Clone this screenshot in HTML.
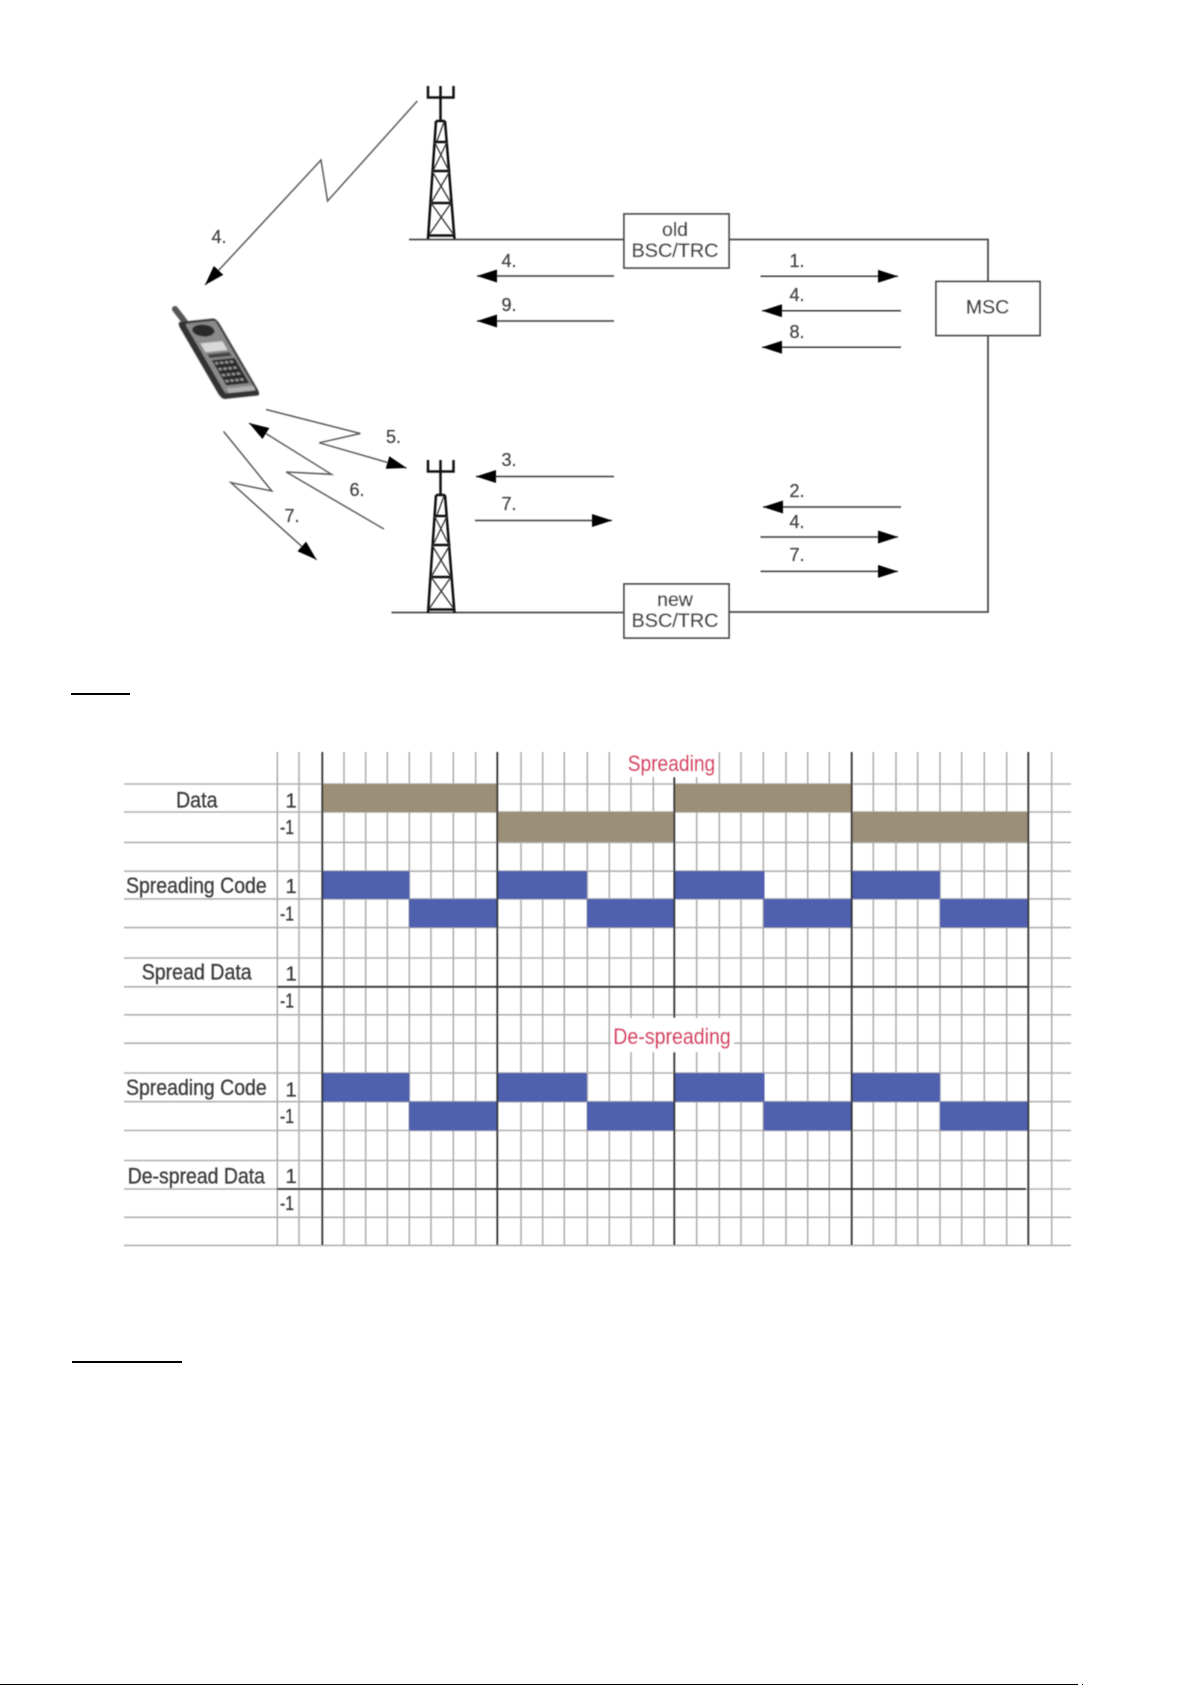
<!DOCTYPE html>
<html>
<head>
<meta charset="utf-8">
<style>
html,body{margin:0;padding:0;background:#fff;}
body{width:1192px;height:1685px;overflow:hidden;}
svg{display:block;}
text{font-family:"Liberation Sans",sans-serif;}
.n{font-size:18px;fill:#444;stroke:#444;stroke-width:.25;text-anchor:middle;}
.b{font-size:19.5px;fill:#3f3f3f;stroke:#3f3f3f;stroke-width:.3;text-anchor:middle;}
.l{font-size:22px;fill:#3a3a3a;stroke:#3a3a3a;stroke-width:.3;}
.v{font-size:20px;fill:#3a3a3a;stroke:#3a3a3a;stroke-width:.3;}
.r{font-size:22px;fill:#d8325f;stroke:#d8325f;stroke-width:.2;}
</style>
</head>
<body>
<svg width="1192" height="1685" viewBox="0 0 1192 1685" xmlns="http://www.w3.org/2000/svg">
<defs>
<filter id="soft" x="0" y="0" width="1192" height="1300" filterUnits="userSpaceOnUse"><feGaussianBlur stdDeviation="0.55"/></filter>
<filter id="softer" x="150" y="290" width="130" height="130" filterUnits="userSpaceOnUse"><feGaussianBlur stdDeviation="0.8"/></filter>
<marker id="ah" markerUnits="userSpaceOnUse" markerWidth="22" markerHeight="14" refX="20" refY="6.5" orient="auto">
<path d="M0,0 L20,6.5 L0,13 Z" fill="#000"/>
</marker>
<g id="tower" fill="none" stroke="#111" stroke-width="2.5">
<path d="M428,86 V97.5 H453.5 V86 M440.5,86 V121"/>
<path d="M436,121 L428,239 M445,121 L454.5,239 M436,121 H445"/>
<path d="M434.5,142 H447 M431.5,171 H450.5 M430.5,203 H451.5 M428.5,235.5 H454.5" />
<g stroke-width="1.3" stroke="#333">
<path d="M437,141 L444,122"/>
<path d="M434.5,142 L449,171 M447,142 L433,171"/>
<path d="M432,171 L451,203 M450,171 L431,203"/>
<path d="M431,203 L454,235 M451,203 L429,235"/>
</g>
</g>
</defs>

<g filter="url(#soft)">
<!-- network lines -->
<g fill="none" stroke="#4a4a4a" stroke-width="1.8">
<path d="M409,239.5 H624 M729,239.5 H988 V281 M988,335 V612 H729 M624,612.5 H391.5"/>
<rect x="624" y="214" width="105" height="54" fill="#fff"/>
<rect x="624" y="584" width="105" height="54" fill="#fff"/>
<rect x="936" y="281.5" width="104" height="54" fill="#fff"/>
</g>
<text class="b" x="675" y="236">old</text>
<text class="b" x="675" y="257" textLength="87" lengthAdjust="spacingAndGlyphs">BSC/TRC</text>
<text class="b" x="675" y="606">new</text>
<text class="b" x="675" y="627" textLength="87" lengthAdjust="spacingAndGlyphs">BSC/TRC</text>
<text class="b" x="987.5" y="313.5">MSC</text>

<use href="#tower"/>
<use href="#tower" y="374"/>

<!-- straight arrows -->
<g fill="none" stroke="#3a3a3a" stroke-width="1.5">
<path marker-end="url(#ah)" d="M614,276 H477"/>
<path marker-end="url(#ah)" d="M614,321 H477"/>
<path marker-end="url(#ah)" d="M614,476.5 H476"/>
<path marker-end="url(#ah)" d="M475,520.5 H612"/>
<path marker-end="url(#ah)" d="M760.5,276.3 H898"/>
<path marker-end="url(#ah)" d="M901,310.7 H762"/>
<path marker-end="url(#ah)" d="M901,347.3 H762"/>
<path marker-end="url(#ah)" d="M901,507 H763"/>
<path marker-end="url(#ah)" d="M760.5,537 H898"/>
<path marker-end="url(#ah)" d="M760.5,571.4 H898"/>
</g>
<!-- lightning arrows -->
<g fill="none" stroke="#5c5c5c" stroke-width="1.5">
<path marker-end="url(#ah)" d="M417.3,101 L327.6,201 L321,160 L205,285"/>
<path marker-end="url(#ah)" d="M266,409.5 L360.3,433.5 L319.3,442.8 L406.7,468"/>
<path marker-end="url(#ah)" d="M383.9,529 L286.2,472 L331.4,474.3 L249,423"/>
<path marker-end="url(#ah)" d="M223.5,431.4 L271.8,491 L231,482.7 L316.6,559.8"/>
</g>
<!-- number labels -->
<text class="n" x="219" y="243">4.</text>
<text class="n" x="509" y="267">4.</text>
<text class="n" x="509" y="311">9.</text>
<text class="n" x="509" y="466">3.</text>
<text class="n" x="509" y="510">7.</text>
<text class="n" x="393.5" y="443">5.</text>
<text class="n" x="357" y="496">6.</text>
<text class="n" x="292" y="522">7.</text>
<text class="n" x="797" y="267">1.</text>
<text class="n" x="797" y="301">4.</text>
<text class="n" x="797" y="338">8.</text>
<text class="n" x="797" y="497">2.</text>
<text class="n" x="797" y="528">4.</text>
<text class="n" x="797" y="561">7.</text>

<!-- chart grid -->
<path fill="none" stroke="#b0b0b0" stroke-width="1.6" d="
M124,784H1071 M124,812H1071 M124,842.4H1071 M124,871.2H1071 M124,898.9H1071 M124,927.6H1071
M124,958H1071 M124,986.8H1071 M124,1014.8H1071 M124,1043.2H1071 M124,1073H1071 M124,1101.7H1071
M124,1130.5H1071 M124,1160.5H1071 M124,1189H1071 M124,1217.3H1071 M124,1245.4H1071
M277.3,752V1245 M299,752V1245 M344,752V1245 M365.7,752V1245 M387.3,752V1245 M409.3,752V1245
M431,752V1245 M453.3,752V1245 M475.7,752V1245 M521,752V1245 M542.7,752V1245 M564.3,752V1245
M587.3,752V1245 M609.3,752V1245 M631,752V1245 M653.3,752V1245 M696.7,752V1245 M719.3,752V1245
M741,752V1245 M763.3,752V1245 M786,752V1245 M807.7,752V1245 M829.3,752V1245 M873.3,752V1245
M896,752V1245 M917.7,752V1245 M940,752V1245 M961.7,752V1245 M984.3,752V1245 M1006.7,752V1245 M1051.7,752V1245"/>

<!-- bars -->
<g fill="#9c8f78">
<rect x="322" y="784" width="175.5" height="28"/>
<rect x="674" y="784" width="177.5" height="28"/>
<rect x="497" y="812" width="177.5" height="30"/>
<rect x="851.5" y="812" width="177" height="30"/>
</g>
<g fill="#4f60ae">
<rect x="322" y="871" width="87.5" height="28"/><rect x="497" y="871" width="90" height="28"/>
<rect x="674" y="871" width="90.5" height="28"/><rect x="851.5" y="871" width="88.5" height="28"/>
<rect x="409" y="899" width="88" height="28.5"/><rect x="587" y="899" width="87.5" height="28.5"/>
<rect x="763.5" y="899" width="88" height="28.5"/><rect x="940" y="899" width="88.5" height="28.5"/>
<rect x="322" y="1073" width="87.5" height="28.7"/><rect x="497" y="1073" width="90" height="28.7"/>
<rect x="674" y="1073" width="90.5" height="28.7"/><rect x="851.5" y="1073" width="88.5" height="28.7"/>
<rect x="409" y="1101.7" width="88" height="28.8"/><rect x="587" y="1101.7" width="87.5" height="28.8"/>
<rect x="763.5" y="1101.7" width="88" height="28.8"/><rect x="940" y="1101.7" width="88.5" height="28.8"/>
</g>

<!-- dark lines -->
<path fill="none" stroke="#333" stroke-width="1.8" d="M322.3,752V1245 M497.3,752V1245 M674.3,752V1245 M851.7,752V1245 M1028.3,752V1245 M277,986.8H1028 M277,1189H1026"/>

<!-- label backgrounds -->
<rect x="623" y="750" width="95" height="27" fill="#fff"/>
<rect x="611" y="1018" width="123" height="34" fill="#fff"/>

<!-- chart text -->
<text class="r" x="627.7" y="771" textLength="87.5" lengthAdjust="spacingAndGlyphs">Spreading</text>
<text class="r" x="613.3" y="1044" textLength="117.5" lengthAdjust="spacingAndGlyphs">De-spreading</text>

<text class="l" x="176" y="807.5" textLength="41.5" lengthAdjust="spacingAndGlyphs">Data</text>
<text class="l" x="126" y="892.8" textLength="140.7" lengthAdjust="spacingAndGlyphs">Spreading Code</text>
<text class="l" x="141.7" y="979.3" textLength="110" lengthAdjust="spacingAndGlyphs">Spread Data</text>
<text class="l" x="126" y="1095" textLength="140.7" lengthAdjust="spacingAndGlyphs">Spreading Code</text>
<text class="l" x="127.7" y="1183.5" textLength="137.3" lengthAdjust="spacingAndGlyphs">De-spread Data</text>

<text class="v" x="285.5" y="807.5">1</text>
<text class="v" x="280" y="834" textLength="14" lengthAdjust="spacingAndGlyphs">-1</text>
<text class="v" x="285.5" y="892.8">1</text>
<text class="v" x="280" y="920.5" textLength="14" lengthAdjust="spacingAndGlyphs">-1</text>
<text class="v" x="285.5" y="980.7">1</text>
<text class="v" x="280" y="1007.5" textLength="14" lengthAdjust="spacingAndGlyphs">-1</text>
<text class="v" x="285.5" y="1096.7">1</text>
<text class="v" x="280" y="1123" textLength="14" lengthAdjust="spacingAndGlyphs">-1</text>
<text class="v" x="285.5" y="1183">1</text>
<text class="v" x="280" y="1210" textLength="14" lengthAdjust="spacingAndGlyphs">-1</text>
</g>

<!-- phone -->
<g filter="url(#softer)">
<path d="M175,309 L185,322" stroke="#555" stroke-width="6" stroke-linecap="round" fill="none"/>
<g transform="matrix(.38,-.04,.43,.74,178,323)">
<rect x="-2" y="-1" width="104" height="104" rx="8" fill="#333"/>
<rect x="16" y="2" width="80" height="94" rx="4" fill="#8a8a8a"/>
<ellipse cx="52" cy="13" rx="28" ry="8" fill="#2a2a2a"/>
<rect x="26" y="29" width="58" height="12" fill="#d8d8d8"/>
<rect x="28" y="44" width="58" height="5" fill="#444"/>
<rect x="30" y="52" width="60" height="34" fill="#2a2a2a"/>
<g fill="#9a9a9a">
<rect x="34" y="55" width="8" height="3"/><rect x="47" y="55" width="8" height="3"/><rect x="60" y="55" width="8" height="3"/><rect x="73" y="55" width="8" height="3"/>
<rect x="34" y="63" width="8" height="3"/><rect x="47" y="63" width="8" height="3"/><rect x="60" y="63" width="8" height="3"/><rect x="73" y="63" width="8" height="3"/>
<rect x="34" y="71" width="8" height="3"/><rect x="47" y="71" width="8" height="3"/><rect x="60" y="71" width="8" height="3"/><rect x="73" y="71" width="8" height="3"/>
<rect x="34" y="79" width="8" height="3"/><rect x="47" y="79" width="8" height="3"/><rect x="60" y="79" width="8" height="3"/><rect x="73" y="79" width="8" height="3"/>
</g>
<rect x="26" y="90" width="70" height="6" fill="#b0b0b0"/>
</g>
</g>

<!-- crisp rules -->
<rect x="71" y="693" width="59" height="2" fill="#000"/>
<rect x="72" y="1361" width="110" height="2" fill="#000"/>
<rect x="0" y="1684" width="1078" height="1" fill="#000"/>
<rect x="1082" y="1684" width="1" height="1" fill="#000"/>
</svg>
</body>
</html>
